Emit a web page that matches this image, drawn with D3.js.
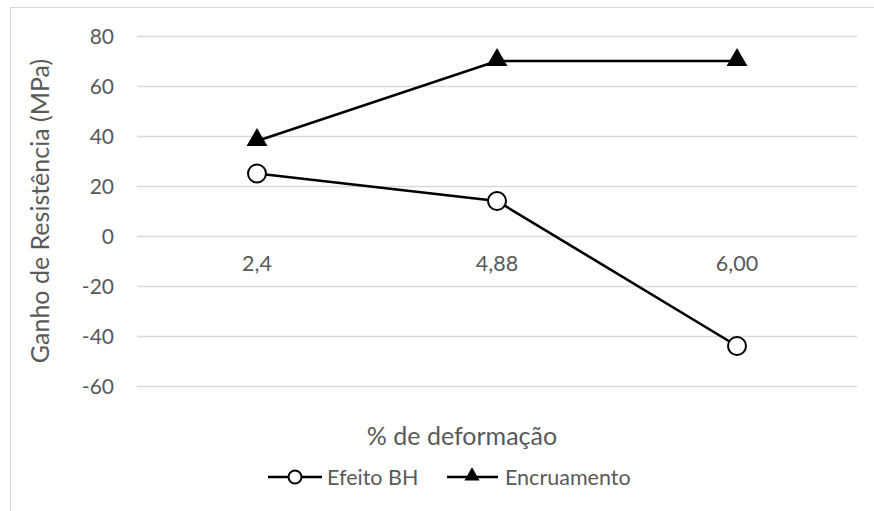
<!DOCTYPE html>
<html>
<head>
<meta charset="utf-8">
<script src="https://cdn.jsdelivr.net/npm/d3@7"></script>
<style>
  html, body { margin: 0; padding: 0; background: #fff; }
  svg { display: block; }
  text { font-family: Lato, "Open Sans", sans-serif; fill: #595959; }
</style>
</head>
<body>
<svg id="chart" width="874" height="511"></svg>
<script>
// Strain levels (category axis)
const categories = ["2,4", "4,88", "6,00"];
// Strength gain (MPa) per series
const efeitoBH = [25, 14, -44];
const encruamento = [38, 70, 70];
// Value axis ticks
const yTicks = [-60, -40, -20, 0, 20, 40, 60, 80];

const svg = d3.select("#chart");
const W = 874, H = 511;

// Chart frame (extends past the right and bottom edges)
svg.append("rect")
  .attr("x", 10.5).attr("y", 7.5)
  .attr("width", W + 20).attr("height", H + 20)
  .attr("fill", "#fff").attr("stroke", "#d9d9d9").attr("stroke-width", 1);

const plot = { left: 137, right: 857, top: 36, bottom: 386 };

const x = d3.scaleBand().domain(categories).range([plot.left, plot.right]);
const y = d3.scaleLinear().domain([-60, 80]).range([plot.bottom, plot.top]);

// Gridlines
svg.append("g").selectAll("line").data(yTicks).join("line")
  .attr("x1", plot.left).attr("x2", plot.right)
  .attr("y1", d => Math.round(y(d)) + 0.5).attr("y2", d => Math.round(y(d)) + 0.5)
  .attr("stroke", "#d9d9d9").attr("stroke-width", 1.3);

// Y axis labels
const yAxis = d3.axisLeft(y).tickValues(yTicks).tickSize(0).tickPadding(0)
  .tickFormat(d => d);
const gy = svg.append("g").attr("transform", `translate(${plot.left - 23},0)`).call(yAxis);
gy.select(".domain").remove();
gy.selectAll("text").style("font-size", "21px").style("font-family", "Lato, sans-serif")
  .attr("fill", "#595959").attr("dy", "0.36em");

// Category labels sit just under the zero line
const xAxis = d3.axisBottom(x).tickSize(0).tickPadding(0);
const gx = svg.append("g").attr("transform", `translate(0,${y(0) + 20})`).call(xAxis);
gx.select(".domain").remove();
gx.selectAll("text").style("font-size", "21.5px").style("font-family", "Lato, sans-serif")
  .attr("fill", "#595959");

// Axis titles
svg.append("text")
  .attr("transform", `translate(49,${(plot.top + plot.bottom) / 2}) rotate(-90)`)
  .attr("text-anchor", "middle")
  .style("font-size", "25px")
  .text("Ganho de Resistência (MPa)");

svg.append("text")
  .attr("x", 462).attr("y", 445)
  .attr("text-anchor", "middle")
  .style("font-size", "25px")
  .text("% de deformação");

const cx = d => x(d) + x.bandwidth() / 2;
const line = d3.line().x(d => cx(d[0])).y(d => y(d[1]));

const tri = d3.symbol().type(d3.symbolTriangle);

// Encruamento series
const encData = categories.map((c, i) => [c, encruamento[i]]);
svg.append("path").datum(encData).attr("d", line)
  .attr("fill", "none").attr("stroke", "#000").attr("stroke-width", 2.6);
svg.append("g").selectAll("path").data(encData).join("path")
  .attr("transform", d => `translate(${cx(d[0])},${y(d[1]) - 1})`)
  .attr("d", tri.size(190)())
  .attr("fill", "#000");

// Efeito BH series
const bhData = categories.map((c, i) => [c, efeitoBH[i]]);
svg.append("path").datum(bhData).attr("d", line)
  .attr("fill", "none").attr("stroke", "#000").attr("stroke-width", 2.6);
svg.append("g").selectAll("circle").data(bhData).join("circle")
  .attr("cx", d => cx(d[0])).attr("cy", d => y(d[1]))
  .attr("r", 9).attr("fill", "#fff").attr("stroke", "#000").attr("stroke-width", 2);

// Legend
const legY = 477;
const leg = svg.append("g");
leg.append("line").attr("x1", 268).attr("x2", 322).attr("y1", legY).attr("y2", legY)
  .attr("stroke", "#000").attr("stroke-width", 2.6);
leg.append("circle").attr("cx", 295).attr("cy", legY).attr("r", 6.5)
  .attr("fill", "#fff").attr("stroke", "#000").attr("stroke-width", 2);
leg.append("text").attr("x", 327).attr("y", legY).attr("dy", "0.36em")
  .style("font-size", "21.5px").text("Efeito BH");

leg.append("line").attr("x1", 447).attr("x2", 498).attr("y1", legY).attr("y2", legY)
  .attr("stroke", "#000").attr("stroke-width", 2.6);
leg.append("path").attr("transform", `translate(472,${legY - 1})`)
  .attr("d", tri.size(100)()).attr("fill", "#000");
leg.append("text").attr("x", 505).attr("y", legY).attr("dy", "0.36em")
  .style("font-size", "21.5px").text("Encruamento");
</script>
</body>
</html>
